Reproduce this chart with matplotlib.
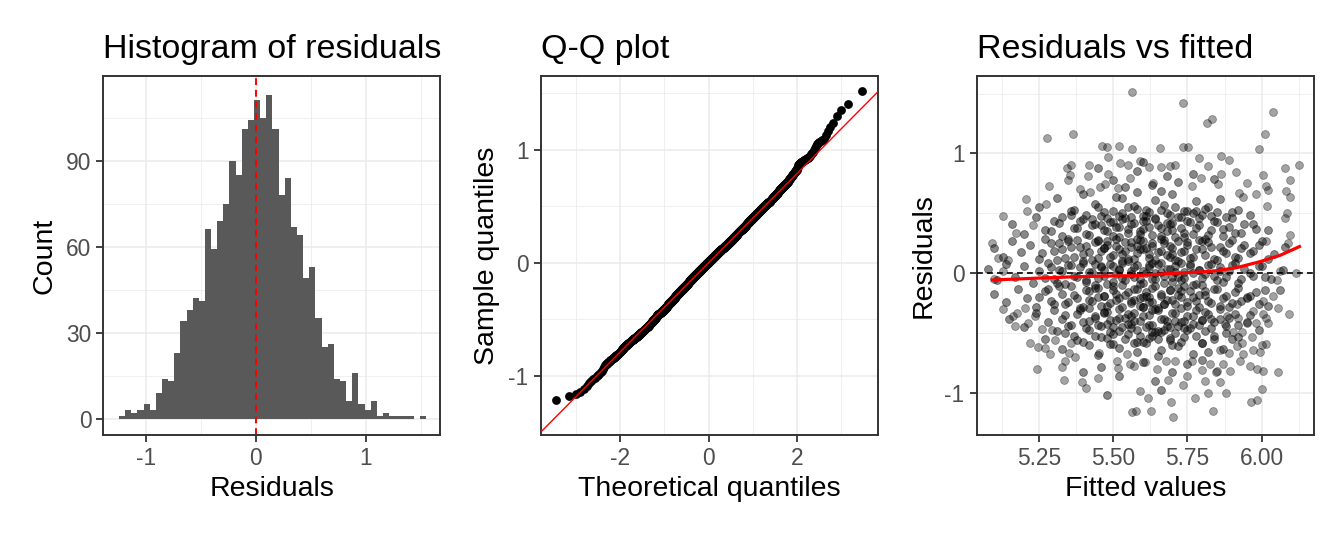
import numpy as np
import matplotlib
matplotlib.use("Agg")
import matplotlib.pyplot as plt
from statistics import NormalDist

plt.rcParams['font.family'] = ['Liberation Sans', 'DejaVu Sans']
plt.rcParams['axes.unicode_minus'] = False

# ---- histogram of residuals (50 bins) ----
bin_start = -1.243
bin_width = 0.0558
hist_counts = [1, 3, 2, 3, 5, 3, 9, 14, 13, 23,
               34, 38, 42, 41, 66, 59, 69, 75, 90, 85,
               101, 104, 111, 105, 113, 101, 78, 84, 67, 64,
               49, 53, 35, 25, 26, 14, 13, 6, 16, 5,
               3, 6, 1, 2, 1, 1, 1, 1, 0, 1]

# residuals behind the histogram, spread inside each bin
resid = []
for i, c in enumerate(hist_counts):
    lo = bin_start + i * bin_width
    for k in range(c):
        resid.append(lo + (k + 0.5) * bin_width / c)
resid = np.array(resid)

# ---- residuals vs fitted ----
outer_pts = [
    (5.563, 1.511), (5.277, 1.133), (5.366, 1.164), (5.462, 1.061), (5.479, 1.053),
    (5.521, 1.061), (5.484, 0.969), (5.344, 0.875), (5.359, 0.903), (5.419, 0.900),
    (5.355, 0.817), (5.348, 0.775), (5.415, 0.811), (5.482, 0.830), (5.524, 0.917),
    (5.551, 0.908), (5.285, 0.728), (5.206, 0.622), (5.210, 0.519), (5.131, 0.478),
    (5.092, 0.256), (5.173, 0.339), (5.230, 0.400), (5.274, 0.581), (5.389, 0.700),
    (5.423, 0.678), (5.456, 0.722), (5.473, 0.742), (5.518, 0.714), (5.557, 0.797),
    (5.736, 1.419), (5.815, 1.256), (5.832, 1.292), (6.037, 1.344), (6.010, 1.161),
    (5.990, 1.036), (5.658, 1.044), (5.734, 1.056), (5.751, 1.053), (5.563, 1.039),
    (5.591, 0.939), (5.621, 0.886), (5.661, 0.886), (5.692, 0.894), (5.708, 0.908),
    (5.790, 0.964), (5.820, 0.894), (5.862, 0.978), (5.890, 0.942), (5.914, 0.844),
    (5.864, 0.833), (6.077, 0.878), (6.125, 0.903), (6.095, 0.778), (6.003, 0.817),
    (5.952, 0.750), (6.014, 0.728), (6.020, 0.694), (6.082, 0.689), (6.095, 0.639),
    (5.981, 0.658), (6.017, 0.561), (6.084, 0.506), (6.078, 0.461), (6.095, 0.317),
    (6.090, 0.256), (6.015, 0.269), (5.765, 0.728), (5.795, 0.797), (5.633, 0.756),
    (5.854, 0.742), (5.925, 0.672), (5.938, 0.639),
    (5.101, -0.050), (5.131, -0.294), (5.170, -0.439), (5.165, -0.356), (5.176, -0.328),
    (5.204, -0.286), (5.215, -0.419), (5.238, -0.356), (5.221, -0.586), (5.247, -0.614),
    (5.271, -0.625), (5.288, -0.675), (5.305, -0.558), (5.244, -0.800), (5.329, -0.786),
    (5.338, -0.736), (5.352, -0.669), (5.372, -0.697), (5.336, -0.889), (5.395, -0.911),
    (5.409, -0.961), (5.450, -0.875), (5.454, -0.669), (5.359, -0.586), (5.563, -1.156),
    (5.260, -0.467), (5.294, -0.475), (5.518, -0.792), (5.512, -0.731), (5.131, 0.019),
    (5.114, 0.125), (5.148, 0.108), (5.546, -0.675), (5.557, -0.758),
    (6.114, 0.006), (6.062, 0.019), (6.051, -0.058), (6.093, -0.336), (6.054, -0.286),
    (6.039, -0.189), (6.003, -0.231), (6.015, -0.369), (6.020, -0.419), (5.980, -0.419),
    (5.966, -0.531), (6.015, -0.592), (6.000, -0.597), (5.972, -0.642), (5.994, -0.653),
    (6.054, -0.828), (6.003, -0.819), (5.983, -0.800), (5.961, -0.772), (6.001, -0.969),
    (5.964, -1.072), (5.983, -1.056), (5.879, -1.003), (5.818, -1.003), (5.837, -1.153),
    (5.776, -1.044), (5.694, -1.072), (5.703, -1.203), (5.627, -1.153), (5.577, -1.153),
    (5.619, -1.044), (5.591, -0.981), (5.686, -0.892), (5.734, -0.933), (5.750, -0.856),
    (5.809, -0.897), (5.860, -0.911), (5.851, -0.819), (5.893, -0.814), (5.871, -0.758),
    (5.927, -0.731), (5.938, -0.675), (5.916, -0.606), (5.933, -0.578), (5.860, -0.642),
    (5.891, -0.669), (5.877, -0.425), (5.903, -0.486), (5.933, -0.486), (5.882, -0.356),
    (5.921, -0.369), (5.950, -0.419), (5.916, -0.258), (5.950, -0.197), (5.972, -0.314),
    (6.005, -0.342), (5.571, -0.772), (5.608, -0.744), (5.647, -0.800), (5.678, -0.731),
    (5.708, -0.731), (5.765, -0.731), (5.798, -0.808), (5.826, -0.758), (5.846, -0.822),
]

core_x_hi = [5.25, 5.31, 5.36, 5.40, 5.44, 5.47, 5.51, 5.55, 5.58, 5.61,
             5.64, 5.67, 5.70, 5.74, 5.78, 5.82, 5.86, 5.90, 5.53, 5.66,
             5.50, 5.58, 5.63, 5.68, 5.72, 5.45, 5.77, 5.54, 5.84, 5.60]
core_y_hi = [0.55, 0.63, 0.52, 0.66, 0.58, 0.51, 0.64, 0.55, 0.68, 0.53,
             0.61, 0.57, 0.66, 0.52, 0.60, 0.55, 0.62, 0.51, 0.63, 0.69,
             0.78, 0.85, 0.74, 0.81, 0.76, 0.88, 0.83, 0.72, 0.79, 0.93]

core_x_up = [5.16, 5.20, 5.24, 5.27, 5.30, 5.33, 5.36, 5.38, 5.40, 5.42,
             5.44, 5.46, 5.48, 5.50, 5.52, 5.54, 5.55, 5.57, 5.59, 5.61,
             5.62, 5.64, 5.66, 5.68, 5.70, 5.72, 5.74, 5.76, 5.78, 5.80,
             5.82, 5.84, 5.87, 5.90, 5.93, 5.97, 6.02, 5.51, 5.60, 5.69]
core_y_up = [0.41, 0.33, 0.47, 0.36, 0.44, 0.31, 0.49, 0.38, 0.45, 0.32,
             0.41, 0.48, 0.35, 0.43, 0.30, 0.46, 0.37, 0.42, 0.33, 0.48,
             0.39, 0.45, 0.31, 0.42, 0.36, 0.47, 0.34, 0.43, 0.38, 0.49,
             0.32, 0.44, 0.37, 0.46, 0.34, 0.41, 0.36, 0.39, 0.44, 0.41]

core_x_pos = [5.10, 5.13, 5.16, 5.19, 5.22, 5.25, 5.27, 5.30, 5.32, 5.34,
              5.36, 5.38, 5.40, 5.41, 5.43, 5.45, 5.46, 5.48, 5.49, 5.51,
              5.52, 5.54, 5.55, 5.56, 5.58, 5.59, 5.61, 5.62, 5.63, 5.65,
              5.66, 5.68, 5.69, 5.71, 5.72, 5.74, 5.75, 5.77, 5.79, 5.80,
              5.82, 5.84, 5.86, 5.88, 5.90, 5.92, 5.94, 5.97, 6.00, 6.04,
              6.08, 5.53, 5.60, 5.47, 5.70]
core_y_pos = [0.21, 0.14, 0.27, 0.18, 0.24, 0.12, 0.29, 0.19, 0.25, 0.13,
              0.22, 0.28, 0.16, 0.23, 0.11, 0.27, 0.19, 0.24, 0.14, 0.29,
              0.20, 0.26, 0.12, 0.22, 0.17, 0.28, 0.21, 0.13, 0.25, 0.18,
              0.29, 0.15, 0.23, 0.11, 0.27, 0.19, 0.24, 0.14, 0.28, 0.20,
              0.26, 0.12, 0.22, 0.17, 0.28, 0.13, 0.24, 0.19, 0.27, 0.16,
              0.22, 0.16, 0.20, 0.21, 0.16]

core_x_mid = [5.08, 5.11, 5.14, 5.17, 5.20, 5.23, 5.25, 5.28, 5.30, 5.32,
              5.34, 5.36, 5.37, 5.39, 5.41, 5.42, 5.44, 5.45, 5.47, 5.48,
              5.50, 5.51, 5.53, 5.54, 5.56, 5.57, 5.58, 5.60, 5.61, 5.62,
              5.64, 5.65, 5.67, 5.68, 5.70, 5.71, 5.73, 5.74, 5.76, 5.78,
              5.79, 5.81, 5.83, 5.85, 5.86, 5.88, 5.90, 5.92, 5.94, 5.97,
              6.00, 6.03, 6.07, 5.52, 5.59, 5.66, 5.72, 5.46, 5.77, 5.63]
core_y_mid = [0.04, -0.06, 0.08, -0.03, 0.06, -0.08, 0.02, 0.09, -0.05, 0.03,
              -0.09, 0.07, -0.02, 0.05, -0.07, 0.01, 0.08, -0.04, 0.03, -0.09,
              0.06, -0.01, 0.09, -0.06, 0.02, -0.03, 0.07, -0.08, 0.00, 0.05,
              -0.05, 0.08, -0.02, 0.04, -0.07, 0.01, 0.09, -0.04, 0.06, -0.09,
              0.03, -0.01, 0.08, -0.06, 0.02, -0.03, 0.07, -0.08, 0.04, -0.02,
              0.06, -0.05, 0.03, 0.04, -0.05, 0.01, -0.03, 0.05, 0.00, 0.09]

core_x_neg = [5.10, 5.14, 5.18, 5.21, 5.24, 5.27, 5.29, 5.32, 5.34, 5.37,
              5.39, 5.41, 5.42, 5.44, 5.46, 5.47, 5.49, 5.50, 5.52, 5.53,
              5.55, 5.56, 5.58, 5.59, 5.61, 5.62, 5.63, 5.65, 5.66, 5.68,
              5.69, 5.71, 5.72, 5.74, 5.75, 5.77, 5.79, 5.81, 5.82, 5.84,
              5.86, 5.88, 5.90, 5.92, 5.95, 5.98, 6.02, 6.06, 5.51, 5.60,
              5.67, 5.73, 5.45, 5.79, 5.57]
core_y_neg = [-0.17, -0.24, -0.13, -0.21, -0.28, -0.15, -0.23, -0.11, -0.26, -0.18,
              -0.29, -0.14, -0.22, -0.12, -0.27, -0.19, -0.25, -0.11, -0.21, -0.28,
              -0.16, -0.23, -0.13, -0.27, -0.19, -0.24, -0.12, -0.29, -0.17, -0.22,
              -0.14, -0.26, -0.18, -0.11, -0.24, -0.20, -0.28, -0.15, -0.23, -0.13,
              -0.27, -0.19, -0.25, -0.12, -0.21, -0.16, -0.27, -0.14, -0.17, -0.20,
              -0.26, -0.15, -0.20, -0.18, -0.22]

core_x_dn = [5.15, 5.20, 5.24, 5.28, 5.31, 5.34, 5.36, 5.39, 5.41, 5.44,
             5.46, 5.48, 5.49, 5.51, 5.53, 5.55, 5.56, 5.58, 5.60, 5.62,
             5.63, 5.65, 5.67, 5.69, 5.71, 5.73, 5.75, 5.77, 5.79, 5.81,
             5.83, 5.86, 5.88, 5.91, 5.95, 5.99, 5.52, 5.61, 5.68, 5.42,
             5.80, 5.57, 5.74, 5.47, 5.64]
core_y_dn = [-0.38, -0.45, -0.33, -0.41, -0.48, -0.35, -0.43, -0.31, -0.46, -0.37,
             -0.44, -0.32, -0.49, -0.39, -0.45, -0.34, -0.42, -0.47, -0.36, -0.43,
             -0.31, -0.48, -0.38, -0.45, -0.33, -0.41, -0.47, -0.36, -0.43, -0.32,
             -0.46, -0.38, -0.44, -0.34, -0.41, -0.47, -0.37, -0.45, -0.40, -0.40,
             -0.39, -0.40, -0.40, -0.33, -0.49]

core_x_lo = [5.27, 5.33, 5.37, 5.42, 5.45, 5.48, 5.52, 5.55, 5.58, 5.60,
             5.63, 5.66, 5.69, 5.72, 5.74, 5.77, 5.80, 5.84, 5.87, 5.90,
             5.65, 5.50, 5.82, 5.57, 5.40,
             5.46, 5.52, 5.60, 5.64, 5.70, 5.75, 5.40, 5.80, 5.66, 5.48]
core_y_lo = [-0.55, -0.63, -0.52, -0.60, -0.68, -0.54, -0.62, -0.51, -0.66, -0.57,
             -0.52, -0.64, -0.56, -0.61, -0.53, -0.67, -0.58, -0.52, -0.63, -0.55,
             -0.69, -0.59, -0.66, -0.58, -0.57,
             -0.78, -0.86, -0.74, -0.90, -0.82, -0.76, -0.82, -0.72, -0.97, -1.02]

# second, denser layer of the dark core
dense_x_a = [5.33, 5.37, 5.41, 5.45, 5.48, 5.50, 5.53, 5.56, 5.58, 5.60,
             5.62, 5.64, 5.66, 5.69, 5.71, 5.73, 5.75, 5.77, 5.79, 5.81,
             5.83, 5.85, 5.88, 5.92, 5.96, 5.43, 5.57, 5.68, 5.78, 5.52]
dense_y_a = [0.47, 0.53, 0.49, 0.55, 0.46, 0.52, 0.50, 0.47, 0.54, 0.48,
             0.51, 0.46, 0.53, 0.49, 0.55, 0.47, 0.52, 0.50, 0.46, 0.54,
             0.48, 0.51, 0.47, 0.53, 0.49, 0.45, 0.56, 0.50, 0.52, 0.48]

dense_x_b = [5.29, 5.32, 5.35, 5.37, 5.39, 5.41, 5.43, 5.45, 5.47, 5.49,
             5.50, 5.52, 5.53, 5.55, 5.56, 5.58, 5.60, 5.61, 5.63, 5.65,
             5.67, 5.68, 5.70, 5.71, 5.73, 5.75, 5.77, 5.79, 5.81, 5.83,
             5.85, 5.87, 5.89, 5.91, 5.94, 5.98, 5.46, 5.59, 5.66, 5.74]
dense_y_b = [0.35, 0.42, 0.29, 0.38, 0.44, 0.33, 0.40, 0.28, 0.36, 0.43,
             0.31, 0.39, 0.45, 0.34, 0.41, 0.29, 0.37, 0.44, 0.32, 0.40,
             0.28, 0.35, 0.42, 0.30, 0.38, 0.44, 0.33, 0.40, 0.29, 0.36,
             0.43, 0.31, 0.39, 0.34, 0.41, 0.37, 0.40, 0.35, 0.38, 0.30]

dense_x_c = [5.26, 5.29, 5.31, 5.33, 5.35, 5.37, 5.39, 5.40, 5.42, 5.44,
             5.45, 5.47, 5.48, 5.50, 5.51, 5.53, 5.54, 5.56, 5.57, 5.59,
             5.60, 5.62, 5.63, 5.64, 5.66, 5.67, 5.69, 5.70, 5.72, 5.73,
             5.75, 5.76, 5.78, 5.80, 5.81, 5.83, 5.85, 5.87, 5.89, 5.91,
             5.93, 5.96, 5.99, 6.02, 5.58]
dense_y_c = [0.17, 0.25, 0.11, 0.20, 0.27, 0.14, 0.22, 0.10, 0.18, 0.26,
             0.13, 0.21, 0.27, 0.15, 0.23, 0.10, 0.19, 0.26, 0.12, 0.20,
             0.27, 0.16, 0.23, 0.11, 0.19, 0.25, 0.14, 0.21, 0.10, 0.18,
             0.26, 0.13, 0.20, 0.27, 0.15, 0.22, 0.11, 0.19, 0.25, 0.14,
             0.21, 0.17, 0.24, 0.12, 0.23]

dense_x_d = [5.27, 5.29, 5.31, 5.33, 5.35, 5.38, 5.40, 5.41, 5.43, 5.44,
             5.46, 5.47, 5.49, 5.50, 5.52, 5.53, 5.55, 5.56, 5.57, 5.59,
             5.60, 5.62, 5.63, 5.64, 5.66, 5.67, 5.69, 5.70, 5.71, 5.73,
             5.74, 5.76, 5.77, 5.79, 5.80, 5.82, 5.84, 5.86, 5.87, 5.89,
             5.91, 5.93, 5.96, 5.99, 6.01]
dense_y_d = [-0.04, 0.05, -0.08, 0.02, 0.07, -0.03, 0.09, -0.06, 0.01, -0.10,
             0.06, -0.02, 0.08, -0.07, 0.03, -0.04, 0.10, -0.01, 0.05, -0.09,
             0.02, 0.07, -0.05, 0.00, 0.09, -0.08, 0.04, -0.03, 0.06, -0.06,
             0.01, 0.08, -0.10, 0.03, -0.04, 0.07, -0.02, 0.05, -0.07, 0.02,
             0.09, -0.05, 0.00, 0.06, -0.03]

dense_x_e = [5.25, 5.28, 5.30, 5.33, 5.35, 5.36, 5.38, 5.40, 5.42, 5.43,
             5.45, 5.47, 5.48, 5.50, 5.51, 5.53, 5.54, 5.56, 5.57, 5.59,
             5.60, 5.61, 5.63, 5.64, 5.66, 5.67, 5.69, 5.70, 5.72, 5.73,
             5.75, 5.76, 5.78, 5.80, 5.81, 5.83, 5.85, 5.87, 5.89, 5.91,
             5.93, 5.96, 5.99, 6.01, 5.62]
dense_y_e = [-0.20, -0.13, -0.26, -0.17, -0.24, -0.11, -0.21, -0.28, -0.15, -0.23,
             -0.12, -0.19, -0.27, -0.14, -0.22, -0.10, -0.18, -0.25, -0.13, -0.21,
             -0.28, -0.16, -0.24, -0.11, -0.19, -0.26, -0.14, -0.22, -0.12, -0.20,
             -0.27, -0.15, -0.23, -0.10, -0.18, -0.25, -0.13, -0.21, -0.28, -0.16,
             -0.23, -0.19, -0.26, -0.14, -0.20]

dense_x_f = [5.30, 5.33, 5.35, 5.38, 5.40, 5.42, 5.44, 5.45, 5.47, 5.49,
             5.50, 5.52, 5.54, 5.55, 5.57, 5.59, 5.60, 5.62, 5.63, 5.65,
             5.66, 5.68, 5.70, 5.71, 5.73, 5.75, 5.77, 5.78, 5.80, 5.82,
             5.84, 5.86, 5.89, 5.92, 5.96, 5.56, 5.64, 5.72, 5.48, 5.83]
dense_y_f = [-0.31, -0.38, -0.44, -0.34, -0.41, -0.29, -0.36, -0.43, -0.32, -0.39,
             -0.45, -0.30, -0.37, -0.42, -0.33, -0.40, -0.28, -0.35, -0.43, -0.31,
             -0.38, -0.44, -0.33, -0.40, -0.29, -0.36, -0.42, -0.31, -0.39, -0.34,
             -0.41, -0.30, -0.37, -0.43, -0.35, -0.36, -0.30, -0.44, -0.42, -0.38]

dense_x_g = [5.34, 5.38, 5.42, 5.46, 5.49, 5.52, 5.54, 5.56, 5.59, 5.61,
             5.63, 5.65, 5.67, 5.69, 5.71, 5.73, 5.76, 5.78, 5.81, 5.84,
             5.88, 5.92, 5.50, 5.58, 5.66, 5.74, 5.44, 5.80, 5.62, 5.70]
dense_y_g = [-0.50, -0.56, -0.47, -0.53, -0.59, -0.48, -0.55, -0.46, -0.52, -0.58,
             -0.49, -0.55, -0.47, -0.54, -0.50, -0.57, -0.46, -0.52, -0.48, -0.55,
             -0.50, -0.53, -0.51, -0.57, -0.49, -0.46, -0.52, -0.58, -0.54, -0.60]

# loess curve, read at a few fitted values
smooth_x = [5.094, 5.25, 5.383, 5.50, 5.574, 5.703, 5.80, 5.849, 5.916, 5.994, 6.062, 6.127]
smooth_y = [-0.056, -0.04, -0.028, -0.022, -0.02, 0.0, 0.012, 0.022, 0.047, 0.097, 0.150, 0.223]

outer_x = [p[0] for p in outer_pts]
outer_y = [p[1] for p in outer_pts]
inner_x = (core_x_hi + core_x_up + core_x_pos + core_x_mid + core_x_neg + core_x_dn
           + core_x_lo + dense_x_a + dense_x_b + dense_x_c + dense_x_d + dense_x_e
           + dense_x_f + dense_x_g)
inner_y = (core_y_hi + core_y_up + core_y_pos + core_y_mid + core_y_neg + core_y_dn
           + core_y_lo + dense_y_a + dense_y_b + dense_y_c + dense_y_d + dense_y_e
           + dense_y_f + dense_y_g)


def style(ax):
    for s in ax.spines.values():
        s.set_color('#333333')
        s.set_linewidth(1.4)
    ax.grid(which='major', color='#EBEBEB', linewidth=1.1)
    ax.grid(which='minor', color='#EBEBEB', linewidth=0.55)
    ax.set_axisbelow(True)
    ax.tick_params(which='major', length=5.2, width=1.3, color='#333333',
                   labelsize=16.4, labelcolor='#4D4D4D', pad=3.5)
    ax.tick_params(which='minor', length=0)


fig = plt.figure(figsize=(13.44, 5.37), dpi=100)
ax1 = fig.add_axes([0.0769, 0.1899, 0.2505, 0.6686])
ax2 = fig.add_axes([0.4023, 0.1899, 0.2507, 0.6686])
ax3 = fig.add_axes([0.7267, 0.1899, 0.2510, 0.6686])

# histogram
edges = bin_start + np.arange(len(hist_counts) + 1) * bin_width
ax1.hist(resid, bins=edges, color='#595959')
ax1.axvline(0, color='red', linestyle=(0, (3.5, 2.5)), linewidth=1.4)
ax1.set_xlim(-1.385, 1.675)
ax1.set_ylim(-5.7, 119.5)
ax1.set_xticks([-1, 0, 1])
ax1.set_xticks([-0.5, 0.5, 1.5], minor=True)
ax1.set_yticks([0, 30, 60, 90])
ax1.set_yticks([15, 45, 75, 105], minor=True)
ax1.set_xlabel('Residuals', fontsize=20.5, labelpad=4)
ax1.set_ylabel('Count', fontsize=20.5, labelpad=6)
ax1.set_title('Histogram of residuals', fontsize=24.5, loc='left', pad=13)
style(ax1)

# Q-Q plot
n = len(resid)
probs = (np.arange(1, n + 1) - 0.5) / n
nd = NormalDist()
theo = np.array([nd.inv_cdf(p) for p in probs])
samp = np.sort(resid)
q1, q3 = np.quantile(resid, [0.25, 0.75])
z1, z3 = nd.inv_cdf(0.25), nd.inv_cdf(0.75)
slope = (q3 - q1) / (z3 - z1)
icpt = q1 - slope * z1
ax2.scatter(theo, samp, s=40, color='black', linewidths=0, zorder=3)
ax2.axline((0, icpt), slope=slope, color='red', linewidth=1.0, zorder=4)
ax2.set_xlim(-3.797, 3.819)
ax2.set_ylim(-1.523, 1.654)
ax2.set_xticks([-2, 0, 2])
ax2.set_xticks([-3, -1, 1, 3], minor=True)
ax2.set_yticks([-1, 0, 1])
ax2.set_yticks([-0.5, 0.5, 1.5], minor=True)
ax2.set_xlabel('Theoretical quantiles', fontsize=20.5, labelpad=4)
ax2.set_ylabel('Sample quantiles', fontsize=20.5, labelpad=6)
ax2.set_title('Q-Q plot', fontsize=24.5, loc='left', pad=13)
style(ax2)

# residuals vs fitted
ax3.scatter(outer_x, outer_y, s=32, facecolor='black', edgecolor='black',
            linewidths=0.6, alpha=0.36, zorder=3)
ax3.scatter(inner_x, inner_y, s=32, facecolor='black', edgecolor='black',
            linewidths=0.6, alpha=0.47, zorder=3)
ax3.axhline(0, color='black', linestyle=(0, (3.5, 2.5)), linewidth=1.2, zorder=4)
ax3.plot(smooth_x, smooth_y, color='red', linewidth=2.3, zorder=5)
ax3.set_xlim(5.0415, 6.176)
ax3.set_ylim(-1.35, 1.647)
ax3.set_xticks([5.25, 5.5, 5.75, 6.0])
ax3.set_xticklabels(['5.25', '5.50', '5.75', '6.00'])
ax3.set_xticks([5.125, 5.375, 5.625, 5.875, 6.125], minor=True)
ax3.set_yticks([-1, 0, 1])
ax3.set_yticks([-0.5, 0.5, 1.5], minor=True)
ax3.set_xlabel('Fitted values', fontsize=20.5, labelpad=4)
ax3.set_ylabel('Residuals', fontsize=20.5, labelpad=6)
ax3.set_title('Residuals vs fitted', fontsize=24.5, loc='left', pad=13)
style(ax3)

fig.savefig('out.png', dpi=100, facecolor='white')
